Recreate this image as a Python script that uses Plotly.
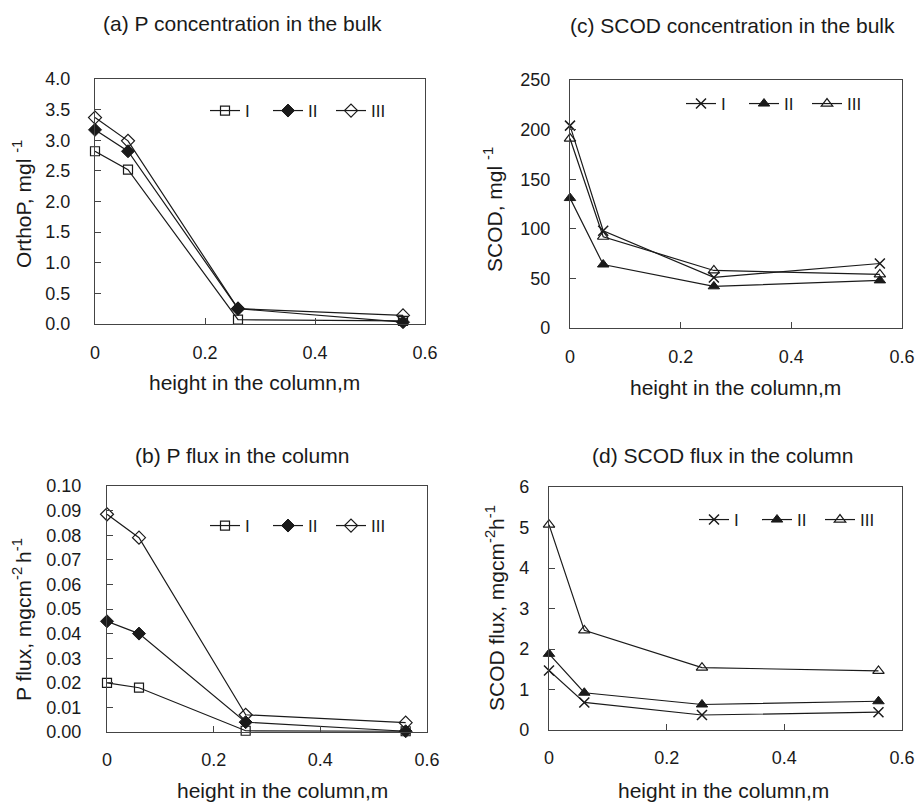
import plotly.graph_objects as go

# ---------------- data ----------------
height = [0, 0.06, 0.26, 0.56]
series_names = ["I", "II", "III"]

p_conc_I = [2.82, 2.52, 0.07, 0.05]
p_conc_II = [3.17, 2.82, 0.25, 0.03]
p_conc_III = [3.37, 2.99, 0.25, 0.14]

p_flux_I = [0.020, 0.018, 0.0005, 0.0003]
p_flux_II = [0.045, 0.040, 0.004, 0.0003]
p_flux_III = [0.0885, 0.079, 0.007, 0.0038]

scod_conc_I = [204, 98, 51, 65]
scod_conc_II = [131, 64, 42, 48]
scod_conc_III = [191, 92, 58, 54]

scod_flux_I = [1.47, 0.68, 0.37, 0.44]
scod_flux_II = [1.88, 0.92, 0.63, 0.71]
scod_flux_III = [5.07, 2.46, 1.54, 1.46]

x_ticks = [0, 0.2, 0.4, 0.6]
x_ticklabels = ["0", "0.2", "0.4", "0.6"]

W, H = 915, 802
FONT = "Liberation Sans, Arial, sans-serif"
INK = "#1a1a1a"

def px(x):
    return x / W

def py(y):
    return 1 - y / H

# panel boxes in pixels: (left, right, top, bottom)
boxes = {
    "a": (95, 425, 79, 324),
    "c": (570, 902, 80, 328),
    "b": (107, 427, 486, 732),
    "d": (549, 902, 487, 730),
}

fig = go.Figure()

p_markers = [
    dict(symbol="square-open", size=9, color=INK, line=dict(width=1.2, color=INK)),
    dict(symbol="diamond", size=10, color=INK, line=dict(width=1, color=INK)),
    dict(symbol="diamond-open", size=10, color=INK, line=dict(width=1.2, color=INK)),
]
s_markers = [
    dict(symbol="x-thin-open", size=10, color=INK, line=dict(width=1.5, color=INK)),
    dict(symbol="triangle-up", size=10, color=INK, line=dict(width=1, color=INK)),
    dict(symbol="triangle-up-open", size=10, color=INK, line=dict(width=1.2, color=INK)),
]

panels = [
    ("a", 1, [p_conc_I, p_conc_II, p_conc_III], p_markers, "legend"),
    ("c", 2, [scod_conc_I, scod_conc_II, scod_conc_III], s_markers, "legend2"),
    ("b", 3, [p_flux_I, p_flux_II, p_flux_III], p_markers, "legend3"),
    ("d", 4, [scod_flux_I, scod_flux_II, scod_flux_III], s_markers, "legend4"),
]

for key, idx, ys, mks, leg in panels:
    xa = "x" if idx == 1 else f"x{idx}"
    ya = "y" if idx == 1 else f"y{idx}"
    for name, yv, mk in zip(series_names, ys, mks):
        fig.add_trace(go.Scatter(
            x=height, y=yv, mode="lines+markers", name=name,
            line=dict(color=INK, width=1.2), marker=mk,
            xaxis=xa, yaxis=ya, legend=leg, cliponaxis=False,
        ))

axis_common = dict(
    showline=True, mirror=True, linecolor="#444", linewidth=1.2,
    ticks="inside", ticklen=6, tickcolor="#444", tickwidth=1,
    showgrid=False, zeroline=False, automargin=False,
    tickfont=dict(family=FONT, size=18, color=INK),
)

yspecs = {
    "a": dict(range=[0, 4.0], dtick=0.5, tickformat=".1f", standoff=20),
    "c": dict(range=[0, 250], dtick=50, tickformat="d", standoff=15),
    "b": dict(range=[0, 0.10], dtick=0.01, tickformat=".2f", standoff=21),
    "d": dict(range=[0, 6], dtick=1, tickformat="d", standoff=15),
}
xstandoff = {"a": 12, "c": 12, "b": 11, "d": 11}

layout = dict(
    width=W, height=H,
    margin=dict(l=0, r=0, t=0, b=0, autoexpand=False),
    paper_bgcolor="white", plot_bgcolor="white",
    font=dict(family=FONT, color=INK),
)

for key, idx, ys, mks, leg in panels:
    l, r, t, b = boxes[key]
    sfx = "" if idx == 1 else str(idx)
    ys_ = yspecs[key]
    layout["xaxis" + sfx] = dict(
        axis_common, domain=[px(l), px(r)], range=[0, 0.6],
        tickvals=x_ticks, ticktext=x_ticklabels,
        anchor="y" + sfx, ticklabelstandoff=xstandoff[key],
    )
    layout["yaxis" + sfx] = dict(
        axis_common, domain=[py(b), py(t)], range=ys_["range"],
        dtick=ys_["dtick"], tick0=0, tickformat=ys_["tickformat"],
        anchor="x" + sfx, ticklabelstandoff=ys_["standoff"],
    )

# legends
legend_pos = {
    "legend": (205, 111),
    "legend2": (681, 104),
    "legend3": (205, 526),
    "legend4": (694, 520),
}
for leg, (lx, ly) in legend_pos.items():
    layout[leg] = dict(
        orientation="h", x=px(lx), y=py(ly), xanchor="left", yanchor="middle",
        bgcolor="rgba(0,0,0,0)", font=dict(family=FONT, size=17, color=INK),
        itemwidth=30, tracegroupgap=0, entrywidth=18, entrywidthmode="pixels",
    )

fig.update_layout(**layout)

# titles and axis titles
titles = [
    ("(a) P concentration in the bulk", 242, 23),
    ("(c) SCOD concentration in the bulk", 732, 25),
    ("(b) P flux in the column", 242, 455),
    ("(d) SCOD flux in the column", 722, 455),
]
for txt, x, y in titles:
    fig.add_annotation(text=txt, x=px(x), y=py(y), xref="paper", yref="paper",
                       showarrow=False, xanchor="center", yanchor="middle",
                       font=dict(family=FONT, size=21, color=INK))

xtitles = [(255, 383), (735, 387), (282, 790), (723, 790)]
for x, y in xtitles:
    fig.add_annotation(text="height in the column,m", x=px(x), y=py(y),
                       xref="paper", yref="paper", showarrow=False,
                       xanchor="center", yanchor="middle",
                       font=dict(family=FONT, size=21, color=INK))

ytitles = [
    ("OrthoP, mgl <sup>-1</sup>", 22, 204),
    ("SCOD, mgl <sup>-1</sup>", 493, 210),
    ("P flux, mgcm<sup>-2 </sup>h<sup>-1</sup>", 22, 620),
    ("SCOD flux, mgcm<sup>-2</sup>h<sup>-1</sup>", 495, 608),
]
for txt, x, y in ytitles:
    fig.add_annotation(text=txt, x=px(x), y=py(y), xref="paper", yref="paper",
                       showarrow=False, xanchor="center", yanchor="middle",
                       textangle=-90, font=dict(family=FONT, size=21, color=INK))

fig.write_html(
    "out.html",
    config={"displayModeBar": False},
    post_script="document.body.style.margin='0';document.body.style.overflow='hidden';",
)
